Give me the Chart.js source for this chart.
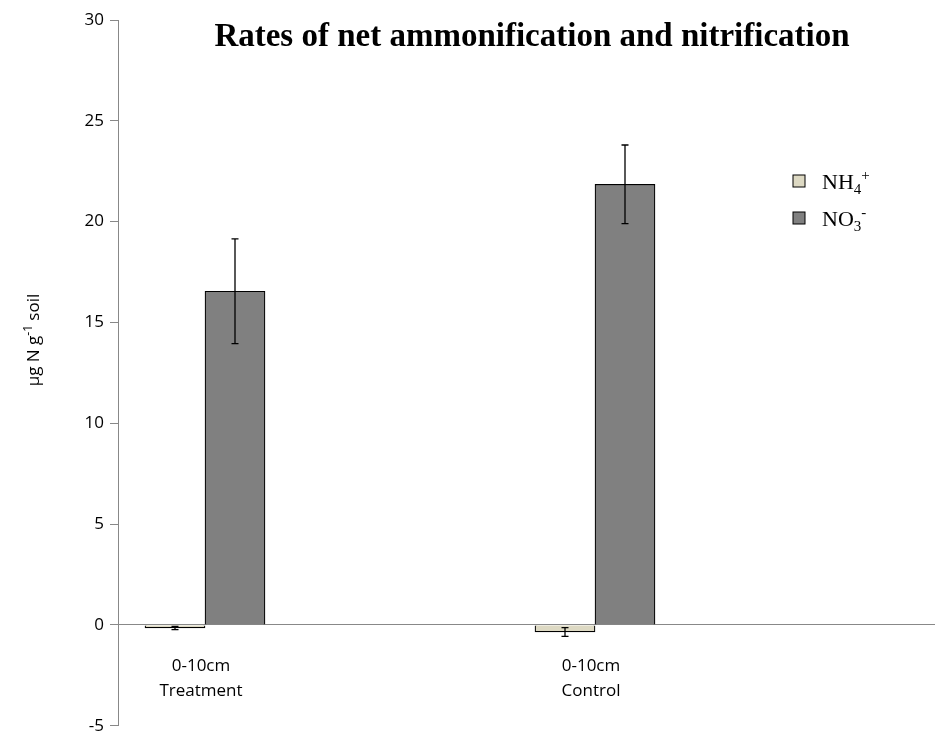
<!DOCTYPE html>
<html><head><meta charset="utf-8">
<script src="https://cdn.jsdelivr.net/npm/chart.js@4"></script>
<style>body{margin:0;background:#fff}#wrap{width:937px;height:736px}</style>
</head><body><div id="wrap"><canvas id="chart"></canvas></div>
<script>
'use strict';

const categories = [['0-10cm', 'Treatment'], ['0-10cm', 'Control']];
const catPos = [1, 2];
const nh4 = [-0.15, -0.35];
const nh4Err = [0.08, 0.22];
const no3 = [16.55, 21.85];
const no3Err = [2.6, 1.95];

const errorBars = {
  id: 'errorBars',
  afterDatasetsDraw(chart) {
    const ctx = chart.ctx;
    const errs = [nh4Err, no3Err];
    ctx.save();
    ctx.strokeStyle = '#000';
    ctx.lineWidth = 1.3;
    chart.data.datasets.forEach((ds, i) => {
      chart.getDatasetMeta(i).data.forEach((bar, j) => {
        const v = ds.data[j].y;
        const x = bar.x;
        const y1 = chart.scales.y.getPixelForValue(v + errs[i][j]);
        const y2 = chart.scales.y.getPixelForValue(v - errs[i][j]);
        ctx.beginPath();
        ctx.moveTo(x, y1); ctx.lineTo(x, y2);
        ctx.moveTo(x - 3.5, y1); ctx.lineTo(x + 3.5, y1);
        ctx.moveTo(x - 3.5, y2); ctx.lineTo(x + 3.5, y2);
        ctx.stroke();
      });
    });
    ctx.restore();
  }
};

const decorations = {
  id: 'decorations',
  afterDraw(chart) {
    const ctx = chart.ctx;
    const xs = chart.scales.x, ys = chart.scales.y;
    ctx.save();
    ctx.fillStyle = '#000';
    // title
    ctx.font = 'bold 33px "Liberation Serif"';
    ctx.textAlign = 'center';
    ctx.textBaseline = 'alphabetic';
    ctx.fillText('Rates of net ammonification and nitrification', 532, 46);
    // category labels
    ctx.font = '17px "Open Sans"';
    const y0 = ys.getPixelForValue(0);
    categories.forEach((c, i) => {
      const x = xs.getPixelForValue(catPos[i]);
      ctx.fillText(c[0], x - 4, y0 + 46);
      ctx.fillText(c[1], x - 4, y0 + 71);
    });
    // y axis title
    ctx.save();
    ctx.translate(39, 340);
    ctx.rotate(-Math.PI / 2);
    ctx.textAlign = 'left';
    ctx.font = '17px "Open Sans"';
    let t = 'µg N g';
    let w = ctx.measureText(t).width;
    let w2 = ctx.measureText('-1').width * 0.7;
    let w3 = ctx.measureText(' soil').width;
    let sx = -(w + w2 + w3) / 2;
    ctx.fillText(t, sx, 0);
    ctx.font = '12px "Open Sans"';
    ctx.fillText('-1', sx + w, -7);
    ctx.font = '17px "Open Sans"';
    ctx.fillText(' soil', sx + w + w2, 0);
    ctx.restore();
    // legend
    const items = [['NH', '4', '+', '#ddd9c3'], ['NO', '3', '-', '#808080']];
    items.forEach((it, i) => {
      const ly = 181 + i * 37;
      ctx.fillStyle = it[3];
      ctx.fillRect(793, ly - 6, 12, 12);
      ctx.strokeStyle = '#000';
      ctx.lineWidth = 1;
      ctx.strokeRect(793, ly - 6, 12, 12);
      ctx.fillStyle = '#000';
      ctx.textAlign = 'left';
      ctx.font = '22px "Liberation Serif"';
      ctx.fillText(it[0], 822, ly + 8);
      const w = ctx.measureText(it[0]).width;
      ctx.font = '15px "Liberation Serif"';
      ctx.fillText(it[1], 822 + w, ly + 13);
      const w4 = ctx.measureText(it[1]).width;
      ctx.fillText(it[2], 822 + w + w4, ly - 1);
    });
    ctx.restore();
  }
};

const toPts = arr => arr.map((v, i) => ({ x: catPos[i], y: v }));

new Chart(document.getElementById('chart'), {
  type: 'bar',
  data: {
    datasets: [
      { label: 'NH4+', data: toPts(nh4), backgroundColor: '#ddd9c3', borderColor: '#000', borderWidth: 1.2, barThickness: 60 },
      { label: 'NO3-', data: toPts(no3), backgroundColor: '#808080', borderColor: '#000', borderWidth: 1.2, barThickness: 60 }
    ]
  },
  options: {
    responsive: true,
    maintainAspectRatio: false,
    animation: false,
    layout: { padding: { top: 20, bottom: 0, right: 2, left: 0 } },
    plugins: { legend: { display: false }, tooltip: { enabled: false } },
    scales: {
      x: {
        type: 'linear',
        display: false,
        offset: false,
        min: 1 - 87 / 390,
        max: 1 - 87 / 390 + 817 / 390
      },
      y: {
        min: -5, max: 30,
        afterFit(s) { s.width = 118; },
        border: { color: '#888', width: 1 },
        grid: {
          color: c => c.tick && c.tick.value === 0 ? '#888' : 'transparent',
          tickColor: '#888',
          tickLength: 8
        },
        ticks: { stepSize: 5, color: '#000', font: { family: 'Open Sans', size: 17, lineHeight: 0.5 }, padding: 6 }
      }
    }
  },
  plugins: [errorBars, decorations]
});
</script>
</body></html>
